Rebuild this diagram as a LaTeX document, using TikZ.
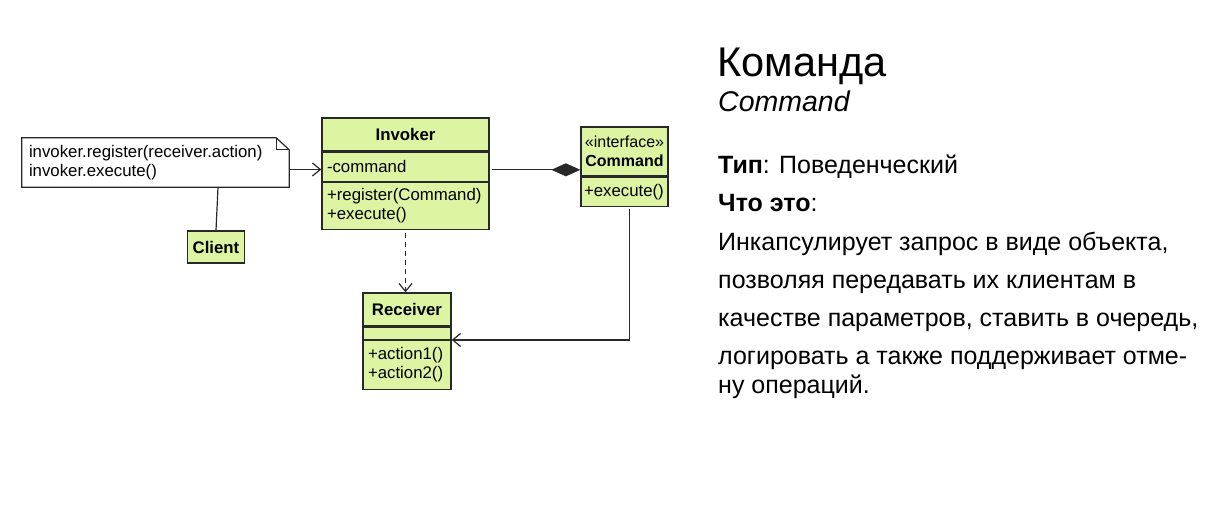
\documentclass[tikz,border=0pt]{standalone}
\usepackage{fontspec}
\setmainfont{Liberation Sans}
\usetikzlibrary{
    arrows.meta,  % For arrow tips
    calc,         % For coordinate calculations
    positioning   % For stacking the class compartments
}
\definecolor{umlgreen}{RGB}{221,245,162}
\definecolor{umlline}{RGB}{40,40,40}

\begin{document}
\begin{tikzpicture}[
    x=1pt, y=-1pt,
    >={Straight Barb[length=8pt,width=13pt]}, % open UML arrow head
    % Style for a class compartment
    box/.style={draw=umlline, line width=1.3pt, fill=umlgreen, inner xsep=5pt, inner ysep=0pt,
        font=\fontsize{16.8}{19}\selectfont},
    head/.style={box, align=center, font=\fontsize{16.8}{19}\selectfont\bfseries},
    part/.style={box, text width=#1, align=left},
    link/.style={umlline, line width=1.2pt},
    info/.style={anchor=base west, inner sep=0pt, font=\fontsize{25}{30}\selectfont}
]

    % Fix the page to the reference size
    \useasboundingbox (0,0) rectangle (1207,511);

    % Invoker class
    \node[head, minimum width=167pt, minimum height=33pt] (invHead) at (405.5,134.5) {Invoker};
    \node[part=157pt, minimum height=29pt, below=0pt of invHead] (invAttr) {-command};
    \node[part=157pt, minimum height=47pt, below=0pt of invAttr] (invOps) {+register(Command)\\+execute()};

    % Command interface
    \node[head, inner xsep=0pt, text width=87pt, minimum height=49pt, font=\fontsize{16}{19}\selectfont]
        (cmdHead) at (624.5,151.5) {«interface»\\\textbf{Command}};
    \node[part=81pt, inner xsep=3pt, minimum height=29pt, below=0pt of cmdHead] (cmdOps) {+execute()};

    % Receiver class
    \node[head, minimum width=88pt, minimum height=33pt] (recvHead) at (407,309.5) {Receiver};
    \node[part=78pt, minimum height=12pt, below=0pt of recvHead] (recvAttr) {};
    \node[part=78pt, minimum height=49pt, below=0pt of recvAttr] (recvOps) {+action1()\\+action2()};

    % Client
    \node[head, minimum width=56pt, minimum height=32pt] (client) at (216,247) {Client};

    % Note with folded corner
    \node[inner xsep=7pt, inner ysep=0pt, text width=253pt, minimum height=49pt, align=left,
        font=\fontsize{16.8}{19}\selectfont] (note) at (155.5,162.5)
        {invoker.register(receiver.action)\\invoker.execute()};
    \draw[link] (note.north west) -- ([xshift=-13pt]note.north east) -- ([yshift=-12pt]note.north east)
        -- (note.south east) -- (note.south west) -- cycle;
    \draw[link, line width=0.9pt] ([xshift=-13pt]note.north east) |- ([yshift=-12pt]note.north east);

    % Connectors
    \draw[link, ->] ([yshift=-7pt]note.east) -- ([yshift=-7pt]note.east -| invAttr.west);
    \draw[link] ([xshift=2pt]note.south -| client.north) -- (client.north);
    \draw[link, -{Diamond[length=29pt,width=13pt]}] ([xshift=2pt,yshift=-3pt]invAttr.east)
        -- ([yshift=-3pt]invAttr.east -| cmdHead.west);
    \draw[link, dash pattern=on 5pt off 4pt, ->] ([yshift=-3pt]invOps.south) -- (invOps.south |- recvHead.north);
    \draw[link, ->] ([xshift=5pt,yshift=-2pt]cmdOps.south) |- (recvAttr.south east);

    % Description on the right
    \node[anchor=base west, inner sep=0pt, font=\fontsize{41.5}{48}\selectfont] (title) at (717,77) {Команда};
    \node[anchor=base west, inner sep=0pt, font=\fontsize{28.5}{32}\selectfont\itshape] (subtitle) at (718,111) {Command};
    \node[info] (kind) at (718,173) {\textbf{Тип}: Поведенческий};
    \node[info] (what) at (718,211) {\textbf{Что это}:};
    \node[info] (line1) at (718,250) {Инкапсулирует запрос в виде объекта,};
    \node[info] (line2) at (718,288) {позволяя передавать их клиентам в};
    \node[info] (line3) at (718,326) {качестве параметров, ставить в очередь,};
    \node[info] (line4) at (718,364) {логировать а также поддерживает отме-};
    \node[info] (line5) at (718,393) {ну операций.};

\end{tikzpicture}
\end{document}
